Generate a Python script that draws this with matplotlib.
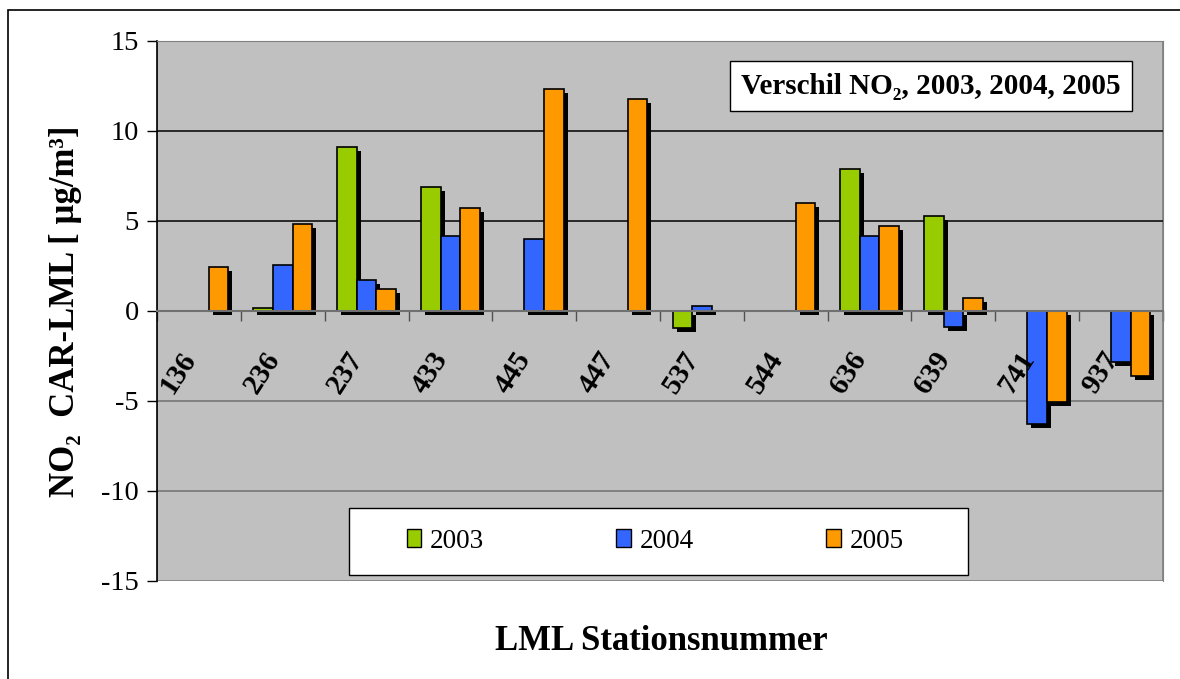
import numpy as np
import matplotlib
matplotlib.use("Agg")
import matplotlib.pyplot as plt
from matplotlib import transforms
from matplotlib.patches import Patch, Rectangle

stations = ['136', '236', '237', '433', '445', '447', '537', '544', '636', '639', '741', '937']
nan = np.nan
v2003 = [nan, 0.15, 9.1, 6.9, nan, nan, -0.95, nan, 7.9, 5.3, nan, nan]
v2004 = [nan, 2.55, 1.75, 4.15, 4.0, nan, 0.3, nan, 4.15, -0.9, -6.25, -2.85]
v2005 = [2.45, 4.85, 1.2, 5.75, 12.35, 11.8, nan, 6.0, 4.7, 0.7, -5.05, -3.6]
years = ['2003', '2004', '2005']
colors = ['#99CC00', '#3366FF', '#FF9900']

serif = ['Liberation Serif', 'DejaVu Serif']
plt.rcParams['font.family'] = serif

fig = plt.figure(figsize=(11.8, 6.79), dpi=100)
ax = fig.add_axes([157/1180, 1-581/679, (1163-157)/1180, 540/679])
ax.set_facecolor('#C0C0C0')

# outer chart border
fig.patches.append(Rectangle((8/1180, -0.1), 1.2, 1-10/679+0.1, transform=fig.transFigure,
                             fill=False, edgecolor='black', linewidth=1.2))

x = np.arange(len(stations))
w = 0.233
shadow = transforms.offset_copy(ax.transData, fig=fig, x=4, y=-4, units='dots')
for k, vals in enumerate([v2003, v2004, v2005]):
    pos = x + (k-1)*w
    sb = ax.bar(pos, vals, width=w, color='black', zorder=2)
    for p in sb:
        p.set_transform(shadow)
    ax.bar(pos, vals, width=w, color=colors[k], edgecolor='black', linewidth=1.2, zorder=3)

ax.set_xlim(-0.5, 11.5)
ax.set_ylim(-15, 15)
ax.set_yticks([-15, -10, -5, 0, 5, 10, 15])
ax.set_yticklabels(['-15', '-10', '-5', '0', '5', '10', '15'])
ax.tick_params(axis='y', labelsize=20.5, length=7, width=1, color='black', pad=6)

# gridlines
for g in [5, 10]:
    ax.axhline(g, color='black', lw=1.1, zorder=1)
for g in [-5, -10]:
    ax.axhline(g, color='#707070', lw=1.1, zorder=1)

ax.spines['bottom'].set_position(('data', 0))
ax.spines['bottom'].set_color('#707070')
ax.spines['bottom'].set_linewidth(1.5)
ax.spines['bottom'].set_zorder(4)
for s in ['top', 'right']:
    ax.spines[s].set_color('#808080')
ax.spines['left'].set_color('black')
ax.spines['left'].set_linewidth(1.2)
ax.add_patch(Rectangle((0, 0), 1, 1, transform=ax.transAxes, fill=False,
                       edgecolor='#808080', lw=1.2, zorder=0.5))
ax.set_xticks(np.arange(-0.5, 12, 1))
ax.set_xticklabels([])
ax.tick_params(axis='x', length=7, width=1, color='#505050', direction='out')

for i, s in enumerate(stations):
    ax.text(i + 0.03, -2.0, s, rotation=57, ha='right', va='top', fontsize=21,
            fontweight='bold', zorder=5)

ax.set_ylabel('NO₂  CAR-LML [ µg/m³]', fontsize=25, fontweight='bold', labelpad=14)
fig.text(661/1180, 1-641/679, 'LML Stationsnummer', fontsize=25, fontweight='bold',
         ha='center', va='center')

ax.text(931/1180, 1-86/679, 'Verschil NO₂, 2003, 2004, 2005', transform=fig.transFigure,
        fontsize=21, fontweight='bold', ha='center', va='center', zorder=6,
        bbox=dict(boxstyle='square,pad=0.4', facecolor='white', edgecolor='black', lw=1))

# legend box
fig.patches.append(Rectangle((349/1180, 1-575/679), 619/1180, 67/679, transform=fig.transFigure,
                             facecolor='white', edgecolor='black', linewidth=1, zorder=5))
handles = [Patch(facecolor=c, edgecolor='black', label=y) for c, y in zip(colors, years)]
leg = fig.legend(handles=handles, ncol=3, loc='center', bbox_to_anchor=(655/1180, 1-541/679),
                 fontsize=19.5, frameon=False,
                 handlelength=0.55, handleheight=0.6, handletextpad=0.3,
                 columnspacing=4.9)
leg.set_zorder(6)

fig.savefig('out.png', dpi=100)
